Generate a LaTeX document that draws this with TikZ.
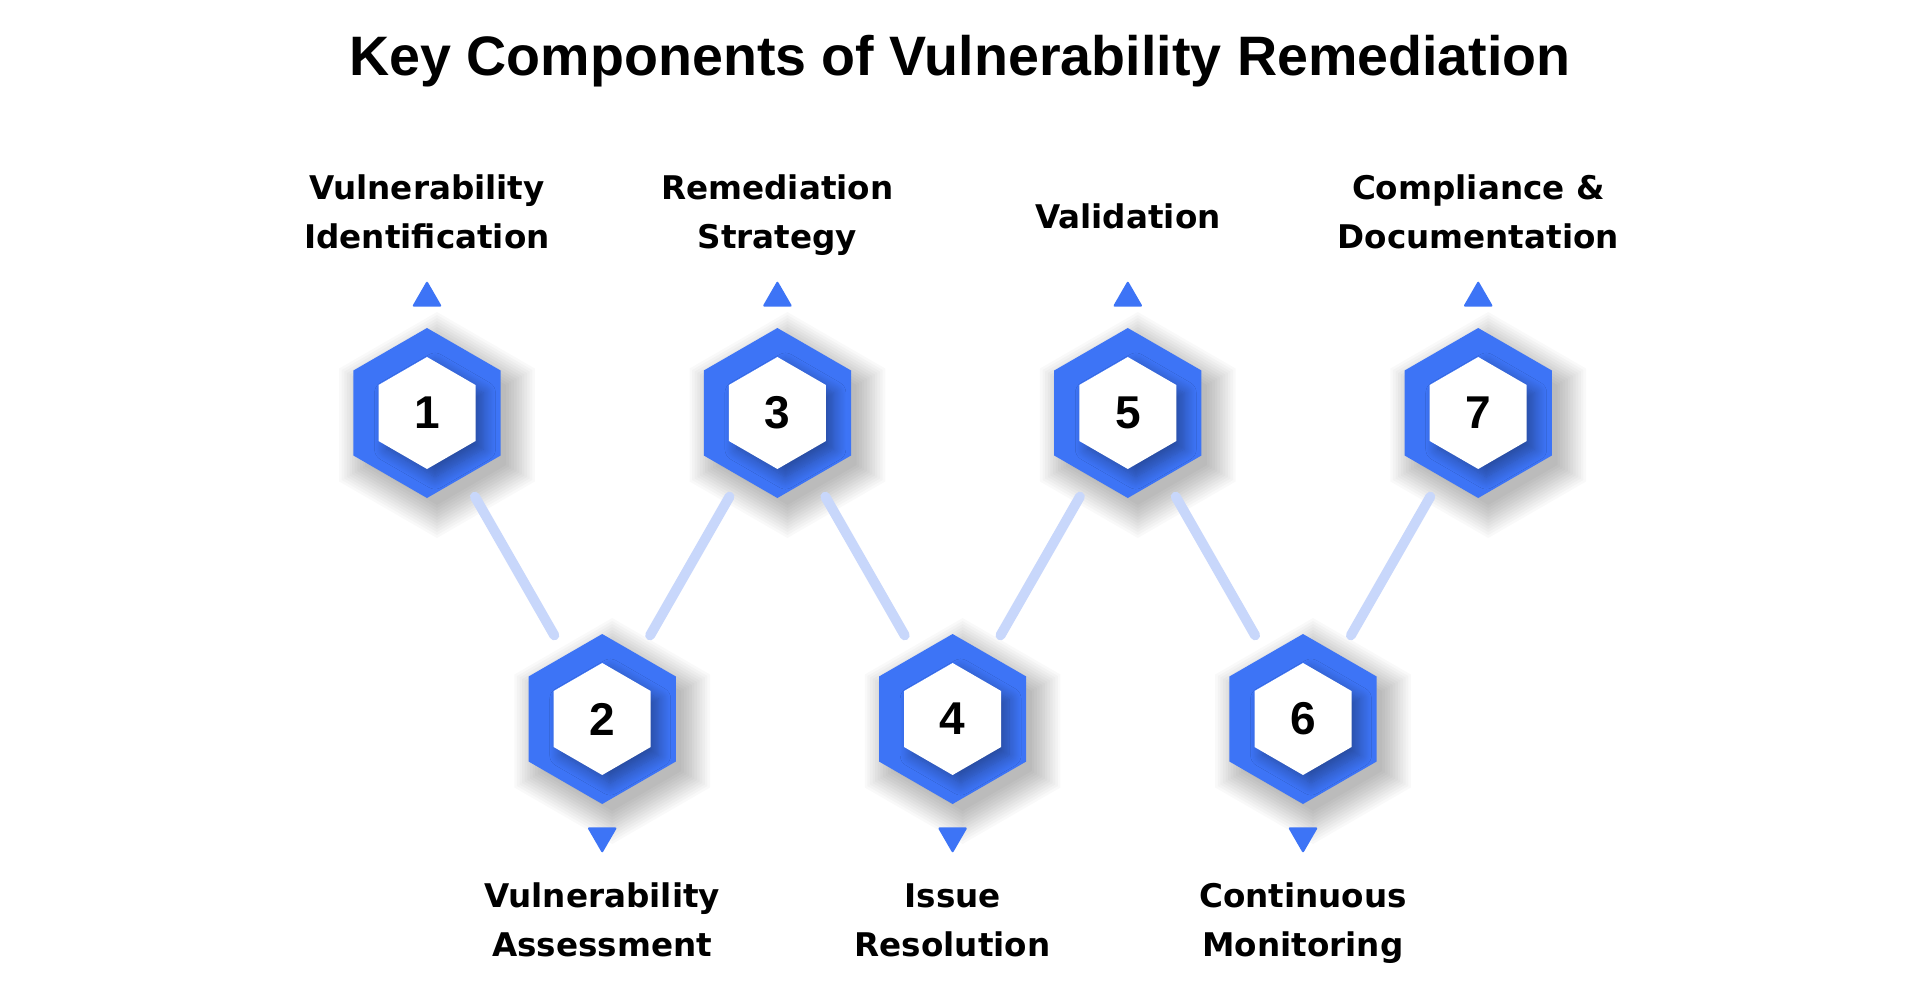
\documentclass[tikz,border=0pt]{standalone}
\usepackage{fontspec}
\setmainfont{Liberation Sans}
\newfontfamily\stepfont{DejaVu Sans}
\usetikzlibrary{shapes.geometric,shadows.blur}

\definecolor{HexBlue}{HTML}{3D74F6}
\definecolor{LinkBlue}{HTML}{C8D7FB}

\def\DiagramTitle{Key Components of Vulnerability Remediation}
\def\NumSteps{7}
\def\StepW{175.2}
\def\FirstX{427}
\def\TopY{413}
\def\LowY{719}

\tikzset{
    shadelayer/.style={fill=black, fill opacity=0.024},
    hexring/.style={
        regular polygon, regular polygon sides=6, shape border rotate=30,
        minimum size=85pt, inner sep=0pt, fill=HexBlue
    },
    hexcore/.style={
        regular polygon, regular polygon sides=6, shape border rotate=30,
        minimum size=56pt, inner sep=0pt, fill=white,
        font=\bfseries\fontsize{23}{23}\selectfont,
        blur shadow={shadow xshift=4pt, shadow yshift=-4pt,
                     shadow blur radius=6pt, shadow blur steps=12,
                     shadow opacity=35}
    },
    marker/.style={
        regular polygon, regular polygon sides=3,
        minimum size=17.3pt, inner sep=0pt, fill=HexBlue, rounded corners=1pt
    },
    stepname/.style={font=\stepfont\bfseries\fontsize{16.3}{24.5}\selectfont, align=center,
                     execute at begin node=\strut, execute at end node=\strut},
    link/.style={line width=5pt, LinkBlue, line cap=round,
                 shorten <=11.2pt, shorten >=11.2pt}
}

\begin{document}
\begin{tikzpicture}[x=0.5pt,y=-0.5pt]

% Page background
\fill[white] (0,0) rectangle (1920,991);
\useasboundingbox (0,0) rectangle (1920,991);

% =====================================================
% TITLE
% =====================================================
\node[anchor=base,font=\bfseries\fontsize{27.8}{27.8}\selectfont] (title) at (960,75) {\DiagramTitle};

% =====================================================
% HEXAGONS, MARKERS AND NAMES
% =====================================================
\foreach \i/\txt in {1/{Vulnerability\\Identification},
                     2/{Vulnerability\\Assessment},
                     3/{Remediation\\Strategy},
                     4/{Issue\\Resolution},
                     5/{Validation},
                     6/{Continuous\\Monitoring},
                     7/{Compliance \&\\Documentation}} {

    \pgfmathsetmacro{\x}{\FirstX + (\i-1)*\StepW}
    \pgfmathtruncatemacro{\isodd}{mod(\i,2)}
    \ifnum\isodd=1
        \pgfmathsetmacro{\y}{\TopY}
    \else
        \pgfmathsetmacro{\y}{\LowY}
    \fi

    % soft shadow, lower right
    \foreach \k in {0,...,11} {
        \pgfmathsetmacro{\r}{80 + 3*\k}
        \fill[shadelayer] (\x+10,\y+12) +(30:\r) -- +(90:\r) -- +(150:\r)
            -- +(210:\r) -- +(270:\r) -- +(330:\r) -- cycle;
    }

    \node[hexring] (h\i) at (\x,\y) {};
    \node[hexcore] (n\i) at (\x,\y) {\i};

    \ifnum\isodd=1
        % upper row: name above
        \node[marker] (m\i) at (\x,\y-115) {};
        \node[stepname] (s\i) at (\x,\y-194) {\txt};
    \else
        % lower row: name below
        \node[marker,shape border rotate=180] (m\i) at (\x,\y+117) {};
        \node[stepname] (s\i) at (\x,\y+208) {\txt};
    \fi
}

% =====================================================
% CONNECTORS
% =====================================================
\foreach \i in {1,...,6} {
    \pgfmathtruncatemacro{\j}{\i + 1}
    \draw[link] (h\i) -- (h\j);
}

\end{tikzpicture}
\end{document}
